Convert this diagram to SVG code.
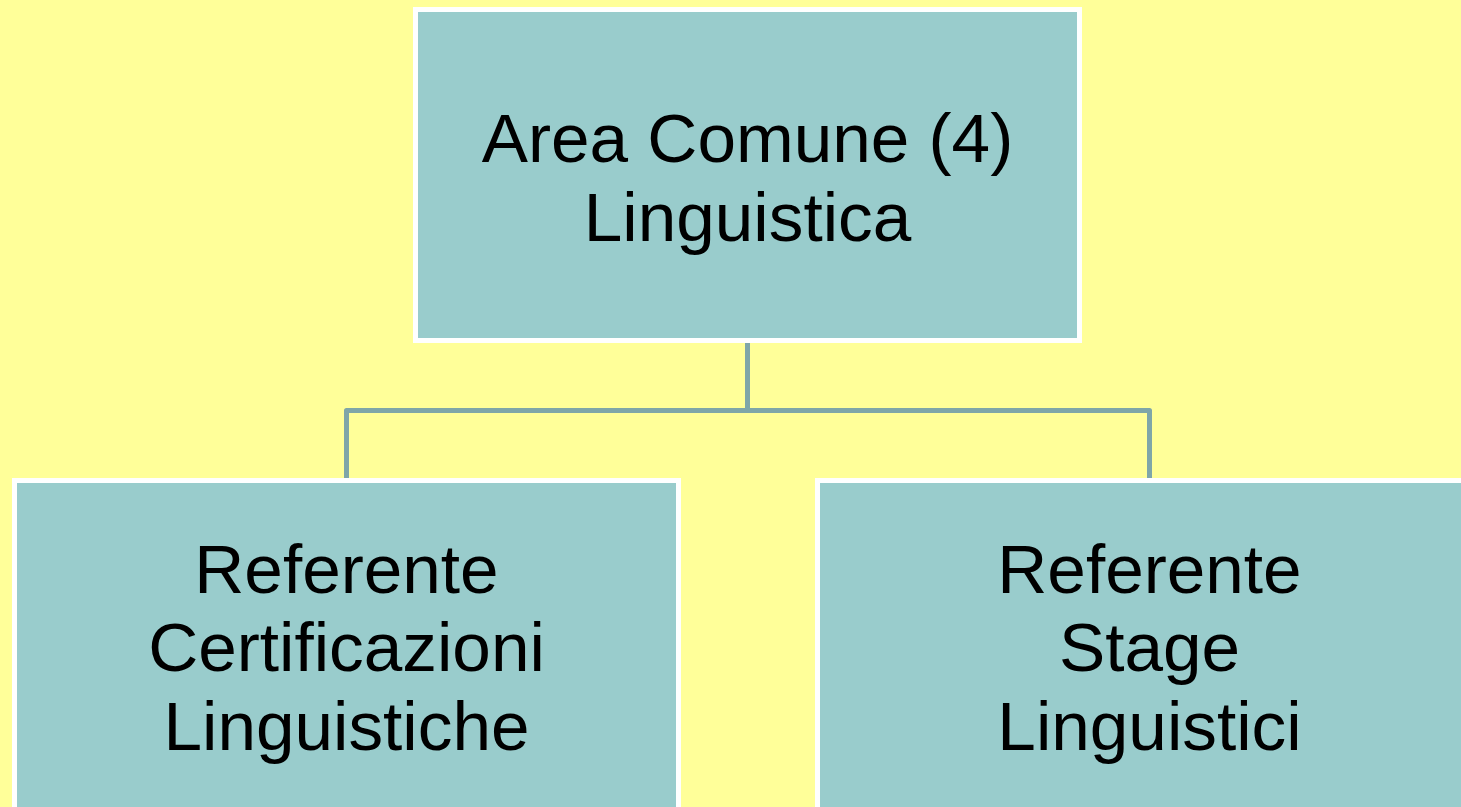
<svg xmlns="http://www.w3.org/2000/svg" width="1461" height="807" viewBox="0 0 1461 807">
<style>
.box{fill:#99CCCC;stroke:#FFFFFF;stroke-width:5}
.lbl{font-family:"Liberation Sans",Arial,sans-serif;font-size:69.3px;fill:#000000;text-anchor:middle}
.conn{fill:none;stroke:#7FA6A8;stroke-width:5;stroke-linejoin:round}
</style>
<rect width="1461" height="807" fill="#FFFF99"/>
<g id="connectors">
<path class="conn" d="M747.5 343 V410.5 M346.5 478 V410.5 H1149.5 V478"/>
</g>
<g id="node-top">
<rect class="box" x="415.5" y="9.5" width="664" height="331"/>
<text class="lbl" x="747.5" y="162">Area Comune (4)</text>
<text class="lbl" x="747.5" y="241">Linguistica</text>
</g>
<g id="node-left">
<rect class="box" x="14.5" y="480.5" width="664" height="340"/>
<text class="lbl" x="346.5" y="593">Referente</text>
<text class="lbl" x="346.5" y="671">Certificazioni</text>
<text class="lbl" x="346.5" y="750">Linguistiche</text>
</g>
<g id="node-right">
<rect class="box" x="817.5" y="480.5" width="664" height="340"/>
<text class="lbl" x="1149.5" y="593">Referente</text>
<text class="lbl" x="1149.5" y="671">Stage</text>
<text class="lbl" x="1149.5" y="750">Linguistici</text>
</g>
</svg>
